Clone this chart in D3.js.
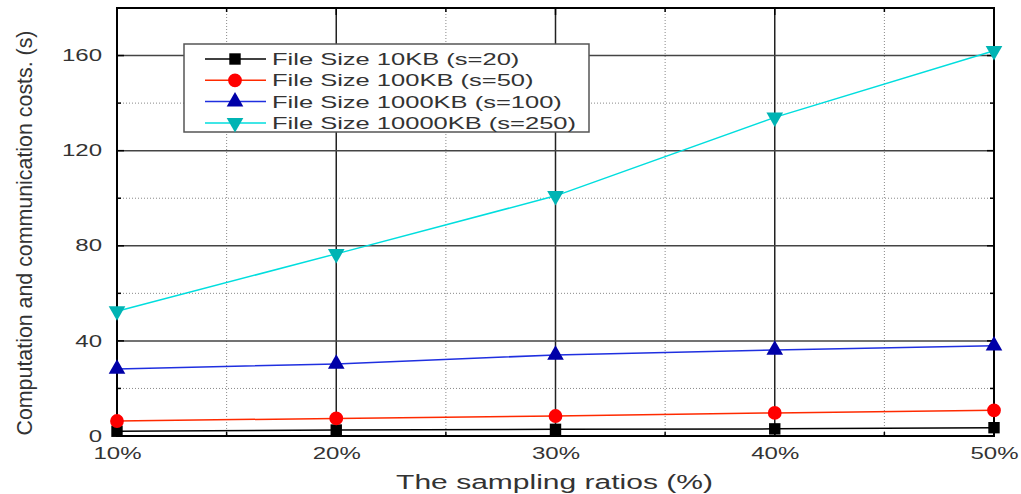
<!DOCTYPE html>
<html>
<head>
<meta charset="utf-8">
<script src="https://cdn.jsdelivr.net/npm/d3@7"></script>
<style>
  body { margin: 0; background: #fff; }
  text { font-family: "Liberation Sans", Arial, sans-serif; }
</style>
</head>
<body>
<div id="chart"></div>
<script>
// data
const ratios = [10, 20, 30, 40, 50];
const xTickLabels = ["10%", "20%", "30%", "40%", "50%"];
const yTicks = [0, 40, 80, 120, 160];
const size10KB = [2.0, 2.5, 2.8, 3.0, 3.5];
const size100KB = [6.3, 7.4, 8.4, 9.7, 10.8];
const size1000KB = [28.2, 30.3, 34.1, 36.2, 38.0];
const size10000KB = [52.5, 76.6, 101, 134, 162];
const seriesNames = ["File Size 10KB (s=20)", "File Size 100KB (s=50)", "File Size 1000KB (s=100)", "File Size 10000KB (s=250)"];

const series = [
    { name: seriesNames[0], values: size10KB, line: "#000000", fill: "#000000", symbol: d3.symbolSquare, size: 130, rot: 0 },
    { name: seriesNames[1], values: size100KB, line: "#ff2a00", fill: "#ff0000", symbol: d3.symbolCircle, size: 150, rot: 0 },
    { name: seriesNames[2], values: size1000KB, line: "#1f2fe0", fill: "#0000a8", symbol: d3.symbolTriangle, size: 120, rot: 0 },
    { name: seriesNames[3], values: size10000KB, line: "#00dede", fill: "#00b4b4", symbol: d3.symbolTriangle, size: 120, rot: 180 }
];

const W = 1021, H = 494;
const margin = { top: 8, right: 27, bottom: 58, left: 117 };
const width = W - margin.left - margin.right;
const height = H - margin.top - margin.bottom;

// the original figure is stretched horizontally, so widen the text to match
const STRETCH = 1.5;
function widen(sel) {
    sel.each(function () {
        const len = this.getComputedTextLength();
        d3.select(this)
            .attr("textLength", len * STRETCH)
            .attr("lengthAdjust", "spacingAndGlyphs");
    });
}

const svg = d3.select("#chart").append("svg")
    .attr("width", W)
    .attr("height", H);

const g = svg.append("g")
    .attr("transform", `translate(${margin.left},${margin.top})`);

const x = d3.scaleLinear().domain([10, 50]).range([0, width]);
const y = d3.scaleLinear().domain([0, 180]).range([height, 0]);

// minor grid (dotted)
const xMinor = [15, 25, 35, 45];
const yMinor = [20, 60, 100, 140];
g.selectAll(".xminor").data(xMinor).enter().append("line")
    .attr("x1", d => x(d)).attr("x2", d => x(d))
    .attr("y1", 0).attr("y2", height)
    .attr("stroke", "#888").attr("stroke-width", 1).attr("stroke-dasharray", "1,2");
g.selectAll(".yminor").data(yMinor).enter().append("line")
    .attr("x1", 0).attr("x2", width)
    .attr("y1", d => y(d)).attr("y2", d => y(d))
    .attr("stroke", "#888").attr("stroke-width", 1).attr("stroke-dasharray", "1,2");

// major grid (solid)
g.selectAll(".xmajor").data(ratios.slice(1, -1)).enter().append("line")
    .attr("x1", d => x(d)).attr("x2", d => x(d))
    .attr("y1", 0).attr("y2", height)
    .attr("stroke", "#222").attr("stroke-width", 1.5);
g.selectAll(".ymajor").data(yTicks.slice(1)).enter().append("line")
    .attr("x1", 0).attr("x2", width)
    .attr("y1", d => y(d)).attr("y2", d => y(d))
    .attr("stroke", "#444").attr("stroke-width", 1.5);

// inner ticks on all four sides
const tickMarks = g.append("g").attr("stroke", "#000").attr("stroke-width", 1.5);
ratios.concat(xMinor).forEach(v => {
    const len = ratios.includes(v) ? 7 : 4;
    tickMarks.append("line").attr("x1", x(v)).attr("x2", x(v)).attr("y1", height).attr("y2", height - len);
    tickMarks.append("line").attr("x1", x(v)).attr("x2", x(v)).attr("y1", 0).attr("y2", len);
});
yTicks.concat(yMinor).forEach(v => {
    const len = yTicks.includes(v) ? 7 : 4;
    tickMarks.append("line").attr("x1", 0).attr("x2", len).attr("y1", y(v)).attr("y2", y(v));
    tickMarks.append("line").attr("x1", width).attr("x2", width - len).attr("y1", y(v)).attr("y2", y(v));
});

// frame
g.append("rect")
    .attr("width", width).attr("height", height)
    .attr("fill", "none").attr("stroke", "#000").attr("stroke-width", 2);

// axes labels
const xAxis = d3.axisBottom(x).tickValues(ratios).tickFormat((d, i) => xTickLabels[i]).tickSize(0).tickPadding(12);
g.append("g").attr("transform", `translate(0,${height})`).call(xAxis)
    .call(a => a.select(".domain").remove())
    .selectAll("text").style("font-size", "16px").attr("fill", "#333").call(widen);

const yAxis = d3.axisLeft(y).tickValues(yTicks).tickSize(0).tickPadding(15);
g.append("g").call(yAxis)
    .call(a => a.select(".domain").remove())
    .selectAll("text").style("font-size", "16px").attr("fill", "#333").call(widen);

// lines and markers
const line = d3.line().x((d, i) => x(ratios[i])).y(d => y(d));
series.forEach(s => {
    g.append("path")
        .datum(s.values)
        .attr("d", line)
        .attr("fill", "none")
        .attr("stroke", s.line)
        .attr("stroke-width", 1.5);
    g.selectAll(null).data(s.values).enter().append("path")
        .attr("d", d3.symbol().type(s.symbol).size(s.size))
        .attr("transform", (d, i) => `translate(${x(ratios[i])},${y(d)}) rotate(${s.rot})`)
        .attr("fill", s.fill);
});

// legend
const legend = svg.append("g").attr("transform", "translate(184,44)");
legend.append("rect")
    .attr("width", 405).attr("height", 88)
    .attr("fill", "#fff").attr("stroke", "#555").attr("stroke-width", 1.5);
series.forEach((s, i) => {
    const ly = 15 + i * 21.3;
    legend.append("line")
        .attr("x1", 21).attr("x2", 82).attr("y1", ly).attr("y2", ly)
        .attr("stroke", s.line).attr("stroke-width", 1.5);
    legend.append("path")
        .attr("d", d3.symbol().type(s.symbol).size(s.size))
        .attr("transform", `translate(51,${ly}) rotate(${s.rot})`)
        .attr("fill", s.fill);
    legend.append("text")
        .attr("x", 88).attr("y", ly).attr("dy", "0.35em")
        .style("font-size", "17px").attr("fill", "#333")
        .text(s.name)
        .call(widen);
});

// axis titles
svg.append("text")
    .attr("x", margin.left + width / 2 - 1).attr("y", 489)
    .attr("text-anchor", "middle")
    .style("font-size", "20px").attr("fill", "#333")
    .text("The sampling ratios (%)")
    .call(widen);

svg.append("text")
    .attr("transform", `translate(32,${margin.top + height / 2 + 11}) rotate(-90)`)
    .attr("text-anchor", "middle")
    .style("font-family", "'Liberation Sans Narrow', 'Liberation Sans', Arial, sans-serif")
    .style("font-size", "22px").attr("fill", "#333")
    .attr("textLength", 405)
    .attr("lengthAdjust", "spacingAndGlyphs")
    .text("Computation and communication costs. (s)");
</script>
</body>
</html>
